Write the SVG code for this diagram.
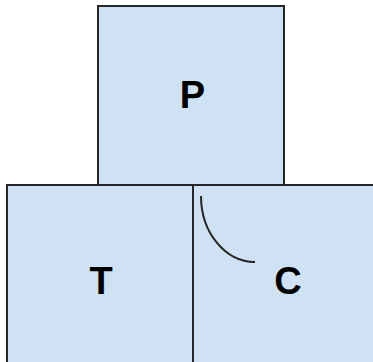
<svg xmlns="http://www.w3.org/2000/svg" width="373" height="362" viewBox="0 0 373 362">
<style>
.box{fill:#cfe2f3;stroke:#262626;stroke-width:2}
.lbl{font-family:"Liberation Sans",Arial,sans-serif;font-weight:bold;font-size:38px;fill:#000;text-anchor:middle}
</style>
<rect width="373" height="362" fill="#fff"/>
<g id="P"><rect class="box" x="98" y="6" width="186" height="179"/><text class="lbl" x="192.5" y="108">P</text></g>
<g id="T"><rect class="box" x="7" y="185" width="186" height="190"/><text class="lbl" x="101" y="294">T</text></g>
<g id="C"><rect class="box" x="193" y="185" width="190" height="190"/><text class="lbl" x="288" y="294">C</text></g>
<g id="connectors"><path d="M201,196 A54,66 0 0 0 255,262" fill="none" stroke="#262626" stroke-width="2"/></g>
</svg>
